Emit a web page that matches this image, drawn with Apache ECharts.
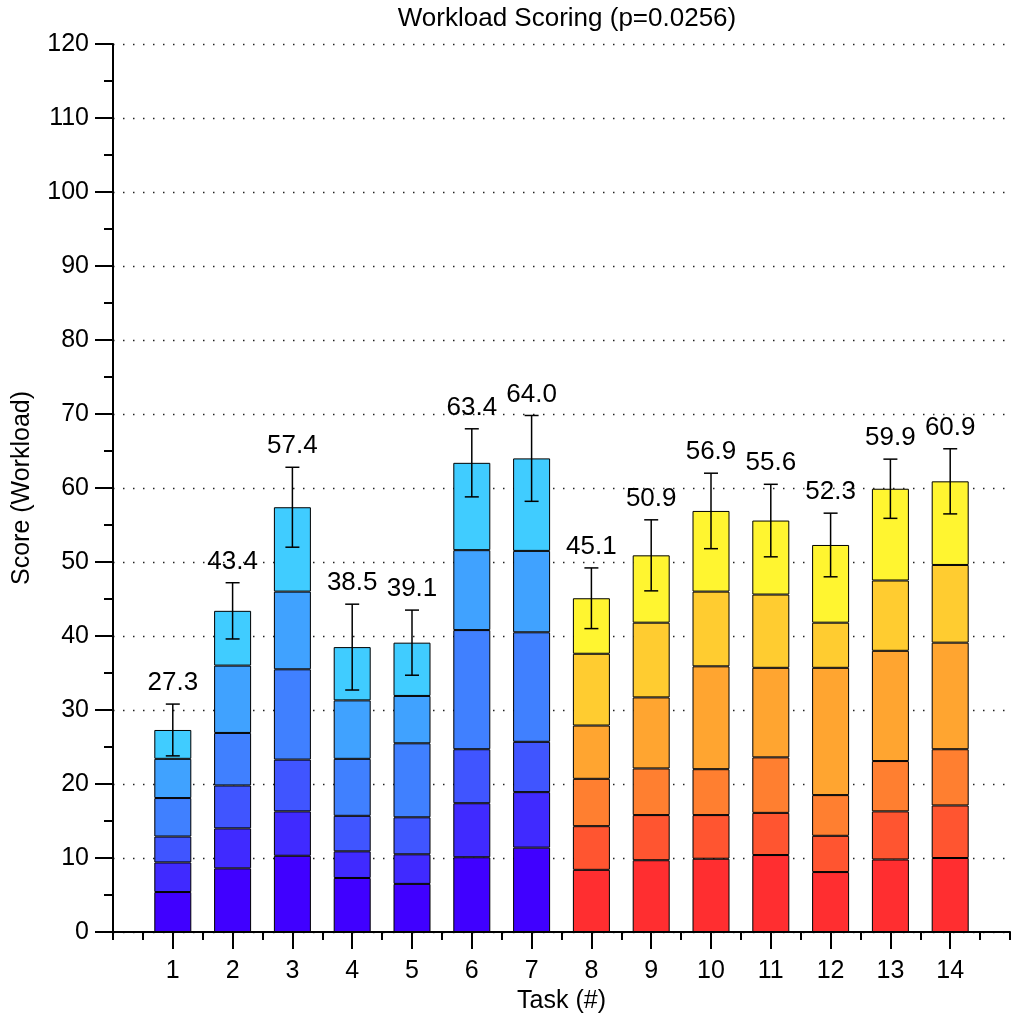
<!DOCTYPE html>
<html>
<head>
<meta charset="utf-8">
<script src="https://cdn.jsdelivr.net/npm/echarts@6/dist/echarts.min.js"></script>
<style>html,body{margin:0;padding:0;background:#fff;}#c{width:1013px;height:1019px;}</style>
</head>
<body>
<div id="c"></div>
<script>
// Task categories (with empty padding slots at both ends of the axis)
const tasks = ['', '1', '2', '3', '4', '5', '6', '7', '8', '9', '10', '11', '12', '13', '14', ''];
// Stacked segment values, bottom (seg1) to top (seg6), for tasks 1..14
const seg1 = [5.4, 8.6, 10.3, 7.3, 6.5, 10.1, 11.4, 8.4, 9.7, 9.9, 10.4, 8.1, 9.8, 10.0];
const seg2 = [4.0, 5.4, 6.0, 3.6, 4.0, 7.3, 7.5, 5.9, 6.1, 5.9, 5.7, 4.9, 6.5, 7.1];
const seg3 = [3.5, 5.8, 7.0, 4.8, 5.0, 7.3, 6.8, 6.4, 6.3, 6.2, 7.5, 5.5, 6.8, 7.6];
const seg4 = [5.2, 7.1, 12.2, 7.7, 10.0, 16.1, 14.8, 7.2, 9.6, 13.9, 12.1, 17.2, 14.9, 14.4];
const seg5 = [5.3, 9.1, 10.5, 7.9, 6.4, 10.8, 11.0, 9.7, 10.1, 10.1, 9.9, 6.1, 9.5, 10.5];
const seg6 = [3.9, 7.4, 11.4, 7.2, 7.2, 11.8, 12.5, 7.5, 9.1, 10.9, 10.0, 10.5, 12.4, 11.3];
// Mean totals (labels) and error half-widths
const means = [27.3, 43.4, 57.4, 38.5, 39.1, 63.4, 64.0, 45.1, 50.9, 56.9, 55.6, 52.3, 59.9, 60.9];
const errors = [3.5, 3.8, 5.4, 5.8, 4.4, 4.6, 5.8, 4.1, 4.8, 5.1, 4.9, 4.3, 4.0, 4.4];
const yTicks = [0, 10, 20, 30, 40, 50, 60, 70, 80, 90, 100, 110, 120];

const blues = ['#4000ff', '#402aff', '#4055ff', '#4080ff', '#40a2ff', '#40ccff'];
const warms = ['#ff2e30', '#ff5530', '#ff7f30', '#ffa530', '#ffcc30', '#fff530'];
const FONT = 'Liberation Sans, Arial, Helvetica, sans-serif';

const segs = [seg1, seg2, seg3, seg4, seg5, seg6];
const barSeries = segs.map((arr, k) => ({
  type: 'bar',
  stack: 'total',
  xAxisIndex: 0,
  barWidth: 37,
  data: arr.map((v, i) => [i + 1, v]),
  itemStyle: {
    color: (p) => (p.dataIndex < 7 ? blues[k] : warms[k]),
    borderColor: '#000',
    borderWidth: 1
  },
  emphasis: { disabled: true },
  z: 2
}));

const errSeries = {
  type: 'custom',
  xAxisIndex: 0,
  data: means.map((m, i) => [i + 1, m, errors[i]]),
  renderItem: function (params, api) {
    const x = api.value(0), m = api.value(1), e = api.value(2);
    const top = api.coord([x, m + e]);
    const bot = api.coord([x, m - e]);
    const cw = 7;
    const ls = { stroke: '#000', lineWidth: 1.5 };
    return {
      type: 'group',
      children: [
        { type: 'line', shape: { x1: top[0], y1: top[1], x2: bot[0], y2: bot[1] }, style: ls },
        { type: 'line', shape: { x1: top[0] - cw, y1: top[1], x2: top[0] + cw, y2: top[1] }, style: ls },
        { type: 'line', shape: { x1: bot[0] - cw, y1: bot[1], x2: bot[0] + cw, y2: bot[1] }, style: ls },
        { type: 'text', style: { text: m.toFixed(1), x: top[0], y: top[1] - 8, textAlign: 'center', textVerticalAlign: 'bottom', fill: '#000', font: '26px ' + FONT } }
      ]
    };
  },
  z: 5
};

const chart = echarts.init(document.getElementById('c'));
chart.setOption({
  animation: false,
  backgroundColor: '#fff',
  textStyle: { fontFamily: FONT },
  title: {
    text: 'Workload Scoring (p=0.0256)',
    left: 562,
    textAlign: 'center',
    top: 1,
    textStyle: { fontSize: 26, fontWeight: 'normal', color: '#000', fontFamily: FONT }
  },
  grid: { left: 113, right: 3, top: 44, bottom: 87, containLabel: false },
  xAxis: [
    {
      type: 'category',
      data: tasks,
      boundaryGap: false,
      name: 'Task (#)',
      nameLocation: 'middle',
      nameGap: 52,
      nameTextStyle: { fontSize: 25, color: '#000', fontFamily: FONT },
      axisLine: { lineStyle: { color: '#000', width: 2 } },
      axisTick: { length: 17, lineStyle: { color: '#000', width: 2 }, interval: (i) => i > 0 && i < tasks.length - 1 },
      axisLabel: { interval: 0, margin: 27, fontSize: 25, color: '#000', fontFamily: FONT },
      splitLine: { show: false }
    },
    {
      type: 'value',
      min: 0,
      max: 15,
      interval: 0.5,
      position: 'bottom',
      axisLine: { show: false },
      axisTick: { show: true, length: 8, lineStyle: { color: '#000', width: 2 } },
      axisLabel: { show: false },
      splitLine: { show: false }
    }
  ],
  yAxis: {
    type: 'value',
    min: yTicks[0],
    max: yTicks[yTicks.length - 1],
    interval: 10,
    name: 'Score (Workload)',
    nameLocation: 'middle',
    nameGap: 78,
    nameTextStyle: { fontSize: 25, color: '#000', fontFamily: FONT },
    axisLine: { show: true, lineStyle: { color: '#000', width: 2 } },
    axisTick: { show: true, length: 18, lineStyle: { color: '#000', width: 2 } },
    minorTick: { show: true, splitNumber: 2, length: 9, lineStyle: { color: '#000', width: 2 } },
    axisLabel: { margin: 24, fontSize: 25, color: '#000', fontFamily: FONT },
    splitLine: { show: true, lineStyle: { color: '#222', width: 1.4, type: [1.5, 8.5] } }
  },
  series: [...barSeries, errSeries]
});
</script>
</body>
</html>
